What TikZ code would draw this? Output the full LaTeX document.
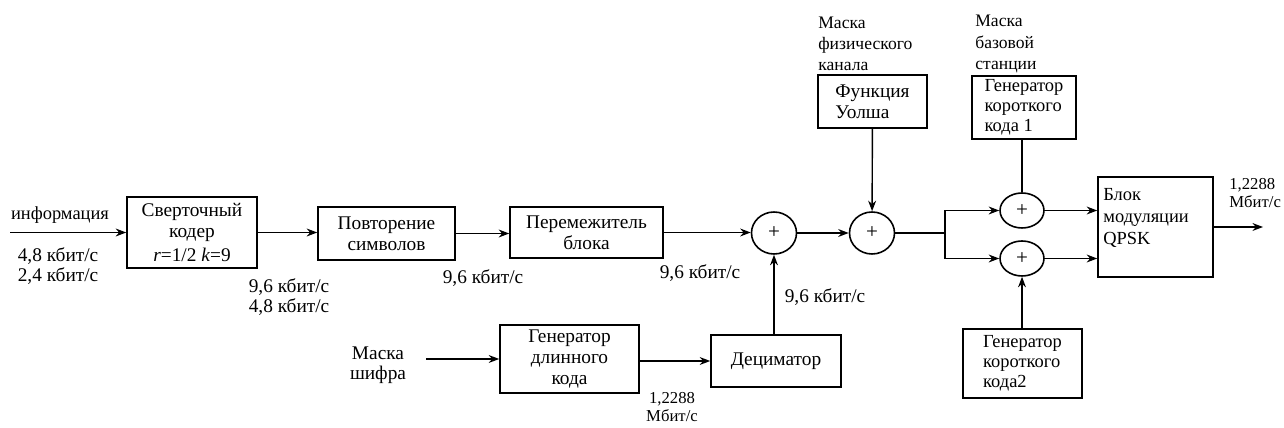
\documentclass[tikz,border=0pt]{standalone}
\usepackage{fontspec}
\setmainfont{Liberation Serif}
\usetikzlibrary{positioning, arrows.meta, shapes.geometric, calc}

\begin{document}
\begin{tikzpicture}[
    x=0.02cm, y=-0.02cm,
    >={Stealth[length=6pt, width=4.5pt]},
    % Styles for blocks and adders
    block/.style={draw, rectangle, line width=0.9pt, align=center, inner sep=2pt, font=\fontsize{11}{12}\selectfont},
    adder/.style={draw, ellipse, line width=0.9pt, inner sep=0pt, font=\fontsize{12}{12}\selectfont},
    % Labels
    label_txt/.style={inner sep=0pt, align=center, font=\fontsize{11}{11.5}\selectfont},
    mask_txt/.style={inner sep=0pt, anchor=west, align=left, font=\fontsize{10}{12}\selectfont},
    % Arrow styles
    flow/.style={->, line width=0.8pt},
    wire/.style={line width=0.8pt}
]
    \useasboundingbox (0,0) rectangle (1284,428);

    % ==================== Main chain (top row) ====================
    \node (coder) at (192,232.5) [block, minimum width=2.6cm, minimum height=1.42cm] {Сверточный\\кодер\\[2pt]\textit{r}=1/2 \textit{k}=9};
    \node (repeat) at (386.5,233.5) [block, minimum width=2.74cm, minimum height=1.06cm] {Повторение\\символов};
    \node (inter) at (586.5,232.5) [block, minimum width=3.06cm, minimum height=1.02cm] {Перемежитель\\блока};

    \node (sum1) at (774,233) [adder, minimum width=0.9cm, minimum height=0.84cm] {+};
    \node (sum2) at (872,233) [adder, minimum width=0.9cm, minimum height=0.84cm] {+};
    \node (walsh) at (872.5,101.5) [block, align=left, minimum width=2.18cm, minimum height=1.06cm] {Функция\\Уолша};

    \node (sum3) at (1022,210.5) [adder, minimum width=0.88cm, minimum height=0.7cm] {+};
    \node (sum4) at (1022,258.5) [adder, minimum width=0.88cm, minimum height=0.7cm] {+};
    \node (gen1) at (1024,107.5) [block, align=left, minimum width=2.08cm, minimum height=1.22cm, font=\fontsize{10.5}{11.5}\selectfont] {Генератор\\короткого\\кода 1};
    \node (gen2) at (1022.5,363.5) [block, align=left, minimum width=2.38cm, minimum height=1.38cm, font=\fontsize{10.5}{11.5}\selectfont] {Генератор\\короткого\\кода2};

    \node (qpsk) at (1155.5,227) [block, minimum width=2.3cm, minimum height=2.0cm] {};
    \node (qpsk_txt) at (1103,218) [mask_txt, font=\fontsize{10.5}{12.5}\selectfont] {Блок\\модуляции\\QPSK};

    % ==================== Long code branch (bottom row) ====================
    \node (longgen) at (569.5,359) [block, minimum width=2.78cm, minimum height=1.36cm] {Генератор\\длинного\\кода};
    \node (decim) at (776,361) [block, minimum width=2.6cm, minimum height=1.04cm] {Дециматор};
    \node (mask_cipher) at (378,365) [label_txt] {Маска\\шифра};

    % Free ends of the connectors
    \coordinate (info_in) at (10,232.5);
    \coordinate (cipher_in) at (426,359);
    \coordinate (split) at (945,233);
    \coordinate (out) at (1263,227);

    % ==================== Text labels ====================
    \node (info) at (60,215) [label_txt, font=\fontsize{10.5}{11}\selectfont] {информация};
    \node (rate_in) at (58,266) [label_txt] {4,8 кбит/с\\2,4 кбит/с};
    \node (rate_coder) at (289,297) [label_txt] {9,6 кбит/с\\4,8 кбит/с};
    \node (rate_rep) at (483,278) [label_txt] {9,6 кбит/с};
    \node (rate_int) at (700,273) [label_txt] {9,6 кбит/с};
    \node (rate_dec) at (825,297) [label_txt] {9,6 кбит/с};
    \node (rate_long) at (672,407) [label_txt, font=\fontsize{9.5}{10.5}\selectfont] {1,2288\\Мбит/с};
    \node (rate_out) at (1229,193) [mask_txt, font=\fontsize{9.5}{10.5}\selectfont] {1,2288\\Мбит/с};
    \node (mask_walsh) at (818,44) [mask_txt] {Маска\\физического\\канала};
    \node (mask_bs) at (975,44) [mask_txt] {Маска\\базовой\\станции};

    % ==================== Connectors ====================
    \draw [flow] (info_in) -- (info_in -| coder.west);
    \draw [flow] (coder.east) -- (coder.east -| repeat.west);
    \draw [flow] (repeat.east) -- (repeat.east -| inter.west);
    \draw [flow] (inter.east) -- (inter.east -| sum1.west);
    \draw [flow] (sum1) -- (sum2);
    \draw [flow] (walsh) -- (sum2);
    \draw [flow] (sum1 |- decim.north) -- (sum1.south);

    \draw [flow] (cipher_in) -- (cipher_in -| longgen.west);
    \draw [flow] (longgen.east |- decim) -- (decim.west);

    % Split into I and Q branches
    \draw [wire] (sum2.east) -- (split);
    \draw [flow] (split) |- (sum3.west);
    \draw [flow] (split) |- (sum4.west);
    \draw [wire] (gen1.south -| sum3) -- (sum3.north);
    \draw [flow] (gen2.north -| sum4) -- (sum4.south);
    \draw [flow] (sum3.east) -- (sum3.east -| qpsk.west);
    \draw [flow] (sum4.east) -- (sum4.east -| qpsk.west);
    \draw [flow] (qpsk.east |- out) -- (out);

\end{tikzpicture}
\end{document}
